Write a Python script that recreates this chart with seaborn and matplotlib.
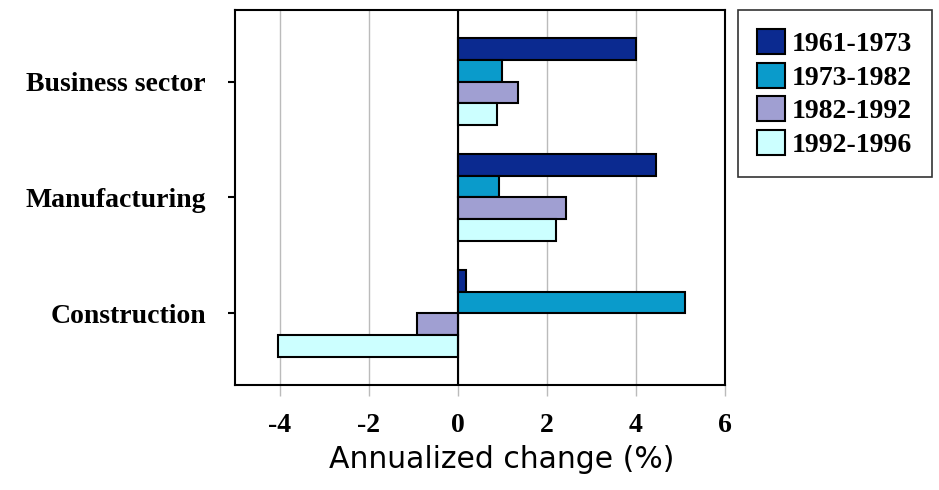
import matplotlib
matplotlib.use("Agg")
import matplotlib.pyplot as plt
import pandas as pd
import seaborn as sns

sectors = ['Business sector', 'Manufacturing', 'Construction']
periods = ['1961-1973', '1973-1982', '1982-1992', '1992-1996']
v_1961_1973 = [4.0, 4.45, 0.18]
v_1973_1982 = [1.0, 0.93, 5.1]
v_1982_1992 = [1.36, 2.43, -0.92]
v_1992_1996 = [0.88, 2.2, -4.03]
colors = ['#0b2a90', '#0a9bcb', '#a09fd2', '#ccffff']

rows = []
for per, vals in zip(periods, [v_1961_1973, v_1973_1982, v_1982_1992, v_1992_1996]):
    for s, v in zip(sectors, vals):
        rows.append({'sector': s, 'period': per, 'change': v})
df = pd.DataFrame(rows)

sns.set_style('white')
plt.rcParams['axes.unicode_minus'] = False
serif = ['Liberation Serif', 'DejaVu Serif']

fig = plt.figure(figsize=(9.39, 4.90), dpi=100)
ax = fig.add_axes([0.2503, 0.2143, 0.5217, 0.7653])
sns.barplot(data=df, y='sector', x='change', hue='period', order=sectors,
            hue_order=periods, palette=colors, saturation=1, orient='h', width=0.75,
            edgecolor='black', linewidth=1.5, ax=ax, legend=True)

ax.set_xlim(-5, 6)
ax.set_ylim(2.62, -0.62)
ax.set_xticks([-4, -2, 0, 2, 4, 6])
ax.grid(axis='x', color='#bbbbbb', linewidth=1)
ax.set_axisbelow(True)
ax.axvline(0, color='black', linewidth=1.5, zorder=1.5)
for sp in ax.spines.values():
    sp.set_color('black')
    sp.set_linewidth(1.5)

ax.tick_params(axis='y', length=5, width=1.5, color='black', direction='out', left=True, pad=16)
ax.tick_params(axis='x', length=8, width=1, color='#bbbbbb', direction='out', bottom=True, pad=12)
for lab in ax.get_yticklabels() + ax.get_xticklabels():
    lab.set_fontfamily(serif)
    lab.set_fontweight('bold')
    lab.set_fontsize(20)
    lab.set_color('black')
ax.set_ylabel('')
ax.set_xlabel('Annualized change (%)', fontsize=21.5, family=['DejaVu Sans'], color='black')
ax.xaxis.set_label_coords(0.545, -0.16)

ax.get_legend().remove()
handles, labels = ax.get_legend_handles_labels()
leg = fig.legend(handles, labels, loc='upper left', bbox_to_anchor=(0.786, 0.98),
                 frameon=True, fancybox=False, edgecolor='black',
                 prop={'family': serif, 'weight': 'bold', 'size': 20},
                 handlelength=1.0, handleheight=1.0, handletextpad=0.25,
                 labelspacing=0.2, borderpad=0.7, borderaxespad=0)
leg.get_frame().set_linewidth(1.2)
for t in leg.get_texts():
    t.set_color('black')

fig.savefig('out.png', dpi=100)
